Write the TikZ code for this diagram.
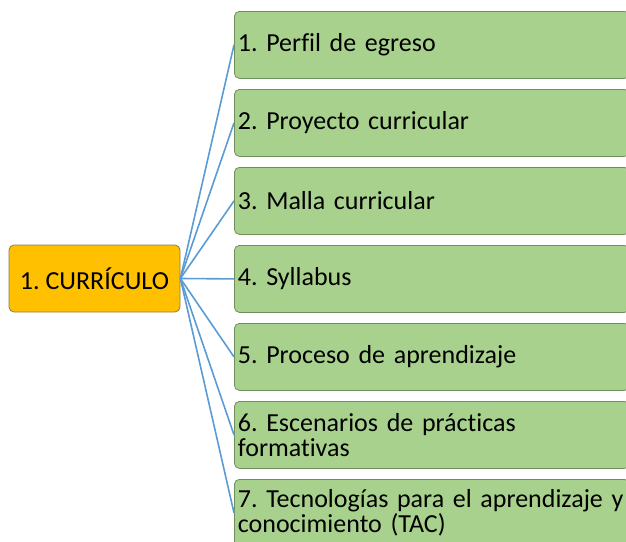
\documentclass[tikz,border=0pt]{standalone}
\usepackage{fontspec}
\setmainfont[Ligatures=NoCommon]{Carlito}
\frenchspacing
\usetikzlibrary{positioning}

\definecolor{leafgreen}{HTML}{A9D18E}
\definecolor{leafline}{HTML}{6F8F5A}
\definecolor{rootorange}{HTML}{FFC000}
\definecolor{rootline}{HTML}{8C7A4A}
\definecolor{linkblue}{HTML}{5B9BD5}

\tikzset{
    leaf/.style={rectangle, rounded corners=5pt, draw=leafline, fill=leafgreen, line width=0.8pt,
        anchor=north west, minimum width=391pt, minimum height=67pt, inner sep=3.5pt,
        text width=388pt, align=left, font=\fontsize{26}{25.5}\selectfont},
    rootbox/.style={rectangle, rounded corners=5pt, draw=rootline, fill=rootorange, line width=0.8pt,
        minimum width=171pt, minimum height=67pt, font=\fontsize{26}{25.5}\selectfont},
    link/.style={linkblue, line width=1.6pt}
}

\begin{document}
\begin{tikzpicture}[x=1pt,y=1pt]
\useasboundingbox (0,0) rectangle (626,-541);

\node[rootbox] (root) at (94.5,-278.5) {1. CURRÍCULO};

\foreach \i/\txt in {1/{1. Perfil de egreso}, 2/{2. Proyecto curricular}, 3/{3. Malla curricular},
    4/{4. Syllabus}, 5/{5. Proceso de aprendizaje}, 6/{6. Escenarios de prácticas\\formativas},
    7/{7. Tecnologías para el aprendizaje y\\conocimiento (TAC)}} {
    \node[leaf] (\i) at (234,{-11-78*(\i-1)}) {\txt};
}

\foreach \i in {1,...,7} {
    \draw[link] (root.east) -- (\i.west);
}
\end{tikzpicture}
\end{document}
